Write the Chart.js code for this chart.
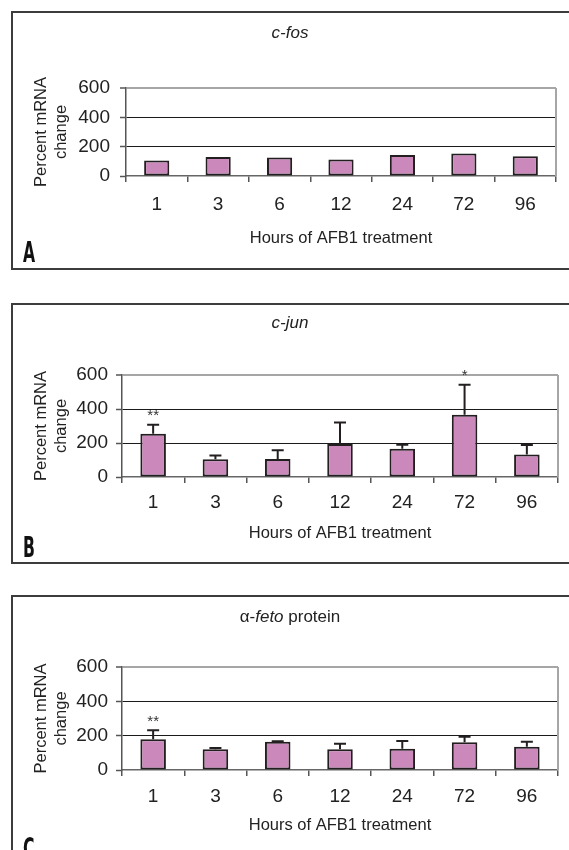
<!DOCTYPE html>
<html><head><meta charset="utf-8">
<script src="https://cdn.jsdelivr.net/npm/chart.js@4.4.1/dist/chart.umd.min.js"></script>
<style>
html,body{margin:0;padding:0;background:#fff;overflow:hidden;width:569px;height:850px;position:relative;}
.panel{position:absolute;left:11px;width:620px;border:2px solid #3c3c3c;box-sizing:border-box;}
canvas{position:absolute;left:0;}
.title{position:absolute;left:0;width:580px;text-align:center;font-family:'Liberation Sans',Arial,sans-serif;font-size:17px;line-height:20px;color:#222;}
.letter{position:absolute;left:23px;font-family:'Liberation Sans Narrow','DejaVu Sans Condensed',sans-serif;font-weight:bold;font-size:28px;line-height:28px;color:#111;transform:scaleX(0.62);transform-origin:0 0;}
</style>
</head><body>
<div class="panel" style="top:11px;height:259px;"></div>
<div class="panel" style="top:303px;height:261px;"></div>
<div class="panel" style="top:595px;height:300px;"></div>
<canvas id="cA" width="569" height="290" style="top:0px"></canvas>
<canvas id="cB" width="569" height="290" style="top:290px"></canvas>
<canvas id="cC" width="569" height="270" style="top:580px"></canvas>
<div class="title" style="top:23px;"><i>c-fos</i></div>
<div class="title" style="top:313px;"><i>c-jun</i></div>
<div class="title" style="top:607px;">α-<i>feto</i> protein</div>
<div class="letter" style="top:239px;">A</div>
<div class="letter" style="top:534px;">B</div>
<div class="letter" style="top:835px;">C</div>
<script>
const hours = ['1', '3', '6', '12', '24', '72', '96'];
const yTicks = [0, 200, 400, 600];
const fosMean = [105, 130, 126, 113, 143, 153, 135];
const junMean = [255, 104, 106, 194, 166, 366, 133];
const junErr = [53, 23, 51, 127, 24, 177, 55];
const junSig = ['**', '', '', '', '', '*', ''];
const afpMean = [179, 121, 164, 121, 124, 162, 136];
const afpErr = [53, 7, 3, 32, 45, 31, 29];
const afpSig = ['**', '', '', '', '', '', ''];

const FONT = "'Liberation Sans', Arial, sans-serif";

const errPlugin = {
  id: 'errbars',
  afterDatasetsDraw(chart) {
    const ctx = chart.ctx;
    const ys = chart.scales.y;
    const meta = chart.getDatasetMeta(0);
    const ds = chart.data.datasets[0];
    const err = ds.err || [];
    const sig = ds.sig || [];
    const a = chart.chartArea;
    ctx.save();
    ctx.strokeStyle = '#a6a6a6';
    ctx.lineWidth = 2;
    ctx.beginPath();
    ctx.moveTo(a.right, a.top);
    ctx.lineTo(a.right, a.bottom);
    ctx.stroke();
    meta.data.forEach((bar, i) => {
      let topPx = bar.y;
      if (err[i]) {
        topPx = ys.getPixelForValue(ds.data[i] + err[i]);
        ctx.strokeStyle = '#231f20';
        ctx.lineWidth = 2;
        ctx.beginPath();
        ctx.moveTo(bar.x, bar.y);
        ctx.lineTo(bar.x, topPx);
        ctx.moveTo(bar.x - 6, topPx);
        ctx.lineTo(bar.x + 6, topPx);
        ctx.stroke();
      }
      if (sig[i]) {
        ctx.fillStyle = '#333';
        ctx.font = '15px ' + FONT;
        ctx.textAlign = 'center';
        ctx.textBaseline = 'alphabetic';
        ctx.fillText(sig[i], bar.x, topPx - 4.5);
      }
    });
    ctx.restore();
  }
};

function makeChart(id, mean, err, sig, c) {
  return new Chart(document.getElementById(id), {
    type: 'bar',
    data: {
      labels: hours,
      datasets: [{
        data: mean, err: err, sig: sig,
        backgroundColor: '#cb88bb', borderColor: '#231f20', borderWidth: 2,
        borderSkipped: false, barPercentage: 0.41, categoryPercentage: 1
      }]
    },
    options: {
      responsive: false, animation: false, devicePixelRatio: 1,
      layout: { padding: { left: 12, right: c.pr, top: c.pt, bottom: c.pb } },
      plugins: { legend: { display: false }, tooltip: { enabled: false }, title: { display: false } },
      scales: {
        x: {
          grid: { drawOnChartArea: false, tickLength: 6, color: '#555', lineWidth: 1.5, offset: true },
          border: { color: '#666', width: 1.5 },
          ticks: { font: { family: FONT, size: 19 }, color: '#222', padding: c.xp, maxRotation: 0, autoSkip: false },
          title: { display: true, text: 'Hours of AFB1 treatment', font: { family: FONT, size: 16.5 }, color: '#222', padding: { top: 0, bottom: c.xtp } },
          afterFit(s) { s.height = c.xh; }
        },
        y: {
          min: 0, max: 600,
          afterBuildTicks(s) { s.ticks = yTicks.map(v => ({ value: v })); },
          grid: {
            color: ctx => (ctx.tick && ctx.tick.value === 600) ? '#a6a6a6' : ((ctx.tick && ctx.tick.value === 0) ? 'rgba(0,0,0,0)' : '#1a1a1a'),
            lineWidth: ctx => (ctx.tick && ctx.tick.value === 600) ? 2 : 1,
            tickColor: '#555', tickWidth: 1.5, tickLength: 6
          },
          border: { color: '#555', width: 1.5 },
          ticks: { font: { family: FONT, size: 19 }, color: '#222', padding: c.yp },
          title: { display: true, text: ['Percent mRNA', 'change'], font: { family: FONT, size: 16.5, lineHeight: 1.25 }, color: '#222', padding: { top: 18.7, bottom: 0 } },
          afterFit(s) { s.width = c.yw; }
        }
      }
    },
    plugins: [errPlugin]
  });
}

makeChart('cA', fosMean, null, null, { pt: 88, pb: 24, xh: 90, xp: 11.6, xtp: 17.6, yw: 114, yp: 10, pr: 13 });
makeChart('cB', junMean, junErr, junSig, { pt: 85, pb: 23, xh: 80, xp: 8.6, xtp: 14.1, yw: 110, yp: 8, pr: 11 });
makeChart('cC', afpMean, afpErr, afpSig, { pt: 87, pb: 5, xh: 75, xp: 9.3, xtp: 10.1, yw: 110, yp: 8, pr: 11 });
</script>
</body></html>
